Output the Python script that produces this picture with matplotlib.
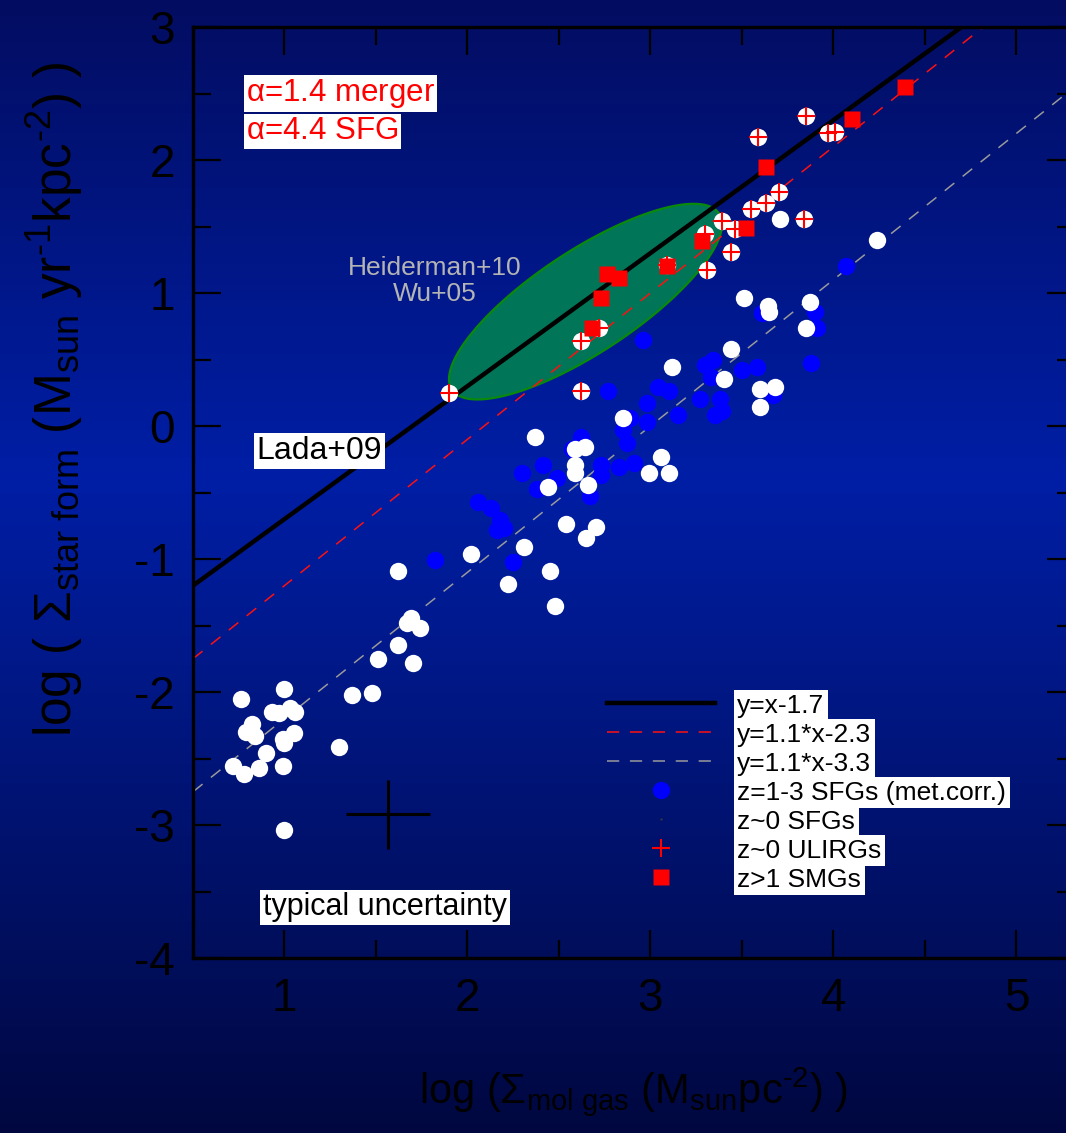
import numpy as np
import matplotlib
matplotlib.use("Agg")
import matplotlib.pyplot as plt
from matplotlib.lines import Line2D

plt.rcParams['font.family'] = ['Liberation Sans', 'DejaVu Sans']
plt.rcParams['mathtext.fontset'] = 'custom'
plt.rcParams['mathtext.rm'] = 'Liberation Sans'
plt.rcParams['mathtext.it'] = 'Liberation Sans'
plt.rcParams['mathtext.default'] = 'regular'
plt.rcParams['axes.unicode_minus'] = False

# z=1-3 SFGs (met.corr.)
sfg_hiz_x = [2.96, 2.77, 3.04, 3.10, 2.98, 2.98, 3.15, 3.27, 3.30, 3.34, 3.33, 3.38, 3.35,
             3.39, 3.50, 3.58, 3.67, 3.61, 3.90, 3.91, 3.88, 4.07, 2.85, 2.89, 2.87, 2.62,
             2.57, 2.73, 2.73, 2.83, 2.91, 2.67, 2.41, 2.49, 2.38, 2.30, 2.06, 2.13, 2.18,
             2.16, 2.20, 2.25, 1.82]
sfg_hiz_y = [0.65, 0.26, 0.29, 0.26, 0.17, 0.03, 0.08, 0.20, 0.46, 0.50, 0.37, 0.20, 0.08,
             0.11, 0.42, 0.44, 0.23, 0.85, 0.86, 0.74, 0.47, 1.20, -0.03, 0.06, -0.13, -0.08,
             -0.17, -0.29, -0.37, -0.31, -0.28, -0.53, -0.29, -0.39, -0.47, -0.35, -0.57,
             -0.62, -0.71, -0.78, -0.77, -1.02, -1.01]

# z~0 SFGs
sfg_loz_x = [3.12, 3.44, 3.40, 2.85, 2.37, 2.59, 2.64, 2.59, 2.59, 2.66, 2.44, 3.06, 2.99,
             3.10, 2.54, 2.70, 2.65, 2.31, 2.02, 2.45, 2.22, 2.48, 4.24, 3.51, 3.64, 3.65,
             3.87, 3.85, 3.60, 3.68, 3.60, 3.71, 1.62, 1.69, 1.67, 1.74, 1.62, 1.70, 1.51,
             1.37, 1.48, 1.30, 0.76, 1.00, 0.93, 0.97, 1.03, 1.06, 0.82, 0.79, 0.84, 1.05,
             0.99, 1.00, 0.90, 0.72, 0.78, 0.86, 0.99, 1.00]
sfg_loz_y = [0.44, 0.58, 0.35, 0.06, -0.08, -0.17, -0.16, -0.29, -0.35, -0.44, -0.46, -0.23,
             -0.35, -0.35, -0.74, -0.76, -0.84, -0.91, -0.96, -1.09, -1.19, -1.35, 1.40, 0.96,
             0.90, 0.86, 0.93, 0.74, 0.28, 0.29, 0.14, 1.56, -1.09, -1.44, -1.48, -1.52,
             -1.65, -1.78, -1.75, -2.02, -2.01, -2.41, -2.05, -1.98, -2.15, -2.16, -2.12,
             -2.15, -2.24, -2.30, -2.33, -2.31, -2.35, -2.38, -2.46, -2.56, -2.62, -2.57,
             -2.56, -3.04]

# z~0 ULIRGs
ulirg_x = [1.90, 2.62, 2.72, 2.62, 3.09, 3.30, 3.31, 3.39, 3.44, 3.46, 3.55, 3.63, 3.70,
           3.84, 3.59, 3.85, 3.97, 4.01]
ulirg_y = [0.25, 0.64, 0.74, 0.26, 1.21, 1.44, 1.17, 1.54, 1.31, 1.48, 1.63, 1.68, 1.76,
           1.56, 2.17, 2.33, 2.20, 2.21]

# z>1 SMGs
smg_x = [2.68, 2.73, 2.76, 2.83, 3.09, 3.28, 3.52, 3.63, 4.10, 4.39]
smg_y = [0.74, 0.96, 1.14, 1.11, 1.20, 1.39, 1.49, 1.95, 2.31, 2.55]

# relations: (slope, intercept)
lada = (1.0, -1.7)
merger_rel = (1.1, -2.3)
sfg_rel = (1.1, -3.3)

fig = plt.figure(figsize=(10.66, 11.33), dpi=100)

# background gradient
bg = fig.add_axes([0, 0, 1, 1], zorder=-10)
stops = np.array([0.0, 0.42, 1.0])
cols = np.array([[0.01, 0.05, 0.38], [0.00, 0.12, 0.65], [0.00, 0.03, 0.25]])
yy = np.linspace(0, 1, 400)
grad = np.stack([np.interp(yy, stops, cols[:, k]) for k in range(3)], axis=1)
bg.imshow(grad[:, None, :], aspect='auto', extent=[0, 1, 1, 0])
bg.set_axis_off()

ax = fig.add_axes([193 / 1066, 1 - 958 / 1133, 882 / 1066, 931 / 1133])
ax.set_facecolor('none')
ax.set_xlim(0.5, 5.32)
ax.set_ylim(-4, 3)

# Heiderman / Wu ellipse
t = np.linspace(0, 2 * np.pi, 300)
a_px, b_px, th = 160, 51, np.deg2rad(33.4)
u, v = a_px * np.cos(t), b_px * np.sin(t)
ex = 2.645 + (u * np.cos(th) - v * np.sin(th)) / 183
ey = 0.935 + (u * np.sin(th) + v * np.cos(th)) / 133
ax.fill(ex, ey, facecolor='#007558', edgecolor='#0a8a0a', lw=1.6, zorder=1)

xs = np.array([0.5, 5.4])
ax.plot(xs, lada[0] * xs + lada[1], color='black', lw=3.2, zorder=2, label='y=x-1.7')
ax.plot(xs, merger_rel[0] * xs + merger_rel[1], color='#ff1010', lw=1.1, ls=(0, (8, 7)),
        zorder=2, label='y=1.1*x-2.3')
ax.plot(xs, sfg_rel[0] * xs + sfg_rel[1], color='#9a9a9a', lw=1.1, ls=(0, (8, 7)),
        zorder=2, label='y=1.1*x-3.3')

ms = 12.5
ax.plot(sfg_hiz_x, sfg_hiz_y, 'o', color='#0000ff', ms=ms, mec='none', zorder=3,
        label='z=1-3 SFGs (met.corr.)')
ax.plot(sfg_loz_x, sfg_loz_y, 'o', color='white', ms=ms, mec='none', zorder=4)
ax.plot(ulirg_x, ulirg_y, 'o', color='white', ms=ms, mec='none', zorder=5)
ax.plot(ulirg_x, ulirg_y, '+', color='#ff0000', ms=ms, mew=1.5, zorder=6,
        label='z~0 ULIRGs')
ax.plot(smg_x, smg_y, 's', color='#ff0000', ms=12, mec='none', zorder=7,
        label='z>1 SMGs')

# typical uncertainty cross
ax.errorbar([1.565], [-2.92], xerr=[0.23], yerr=[0.26], fmt='none', ecolor='black',
            elinewidth=2.2, capsize=0, zorder=3)

# texts
ax.text(0.79, 2.50, r'$\alpha$=1.4 merger', color='#ff0000', fontsize=22.5, va='center',
        ha='left', bbox=dict(facecolor='white', edgecolor='none', pad=1.5), zorder=8)
ax.text(0.79, 2.215, r'$\alpha$=4.4 SFG', color='#ff0000', fontsize=22.5, va='center',
        ha='left', bbox=dict(facecolor='white', edgecolor='none', pad=1.5), zorder=8)
ax.text(1.19, -0.19, 'Lada+09', color='black', fontsize=23, va='center', ha='center',
        bbox=dict(facecolor='white', edgecolor='none', pad=2), zorder=8)
ax.text(1.55, -3.62, 'typical uncertainty', color='black', fontsize=22, va='center',
        ha='center', bbox=dict(facecolor='white', edgecolor='none', pad=2), zorder=8)
ax.text(1.82, 1.09, 'Heiderman+10\nWu+05', color='#b4b4b4', fontsize=19, va='center',
        ha='center', linespacing=1.15, zorder=8)

# legend
h = ax.get_legend_handles_labels()[0]
dot = Line2D([], [], ls='none', marker='.', ms=1.5, color='#334')
handles = [h[0], h[1], h[2], h[3], dot, h[4], h[5]]
labels = ['y=x-1.7', 'y=1.1*x-2.3', 'y=1.1*x-3.3', 'z=1-3 SFGs (met.corr.)',
          'z~0 SFGs', 'z~0 ULIRGs', 'z>1 SMGs']
leg = ax.legend(handles, labels, loc='upper left', bbox_to_anchor=(0.469, 0.284),
                frameon=False, fontsize=19, labelspacing=0.19, handlelength=4.1,
                handletextpad=0.85, borderpad=0, borderaxespad=0, numpoints=1)
for txt in leg.get_texts():
    txt.set_bbox(dict(facecolor='white', edgecolor='none', pad=2.5))
leg.set_zorder(9)

# axes styling
for s in ['left', 'top', 'bottom', 'right']:
    ax.spines[s].set_linewidth(2.4)
    ax.spines[s].set_color('black')
ax.set_xticks([1, 2, 3, 4, 5])
ax.set_xticks([1.5, 2.5, 3.5, 4.5], minor=True)
ax.set_yticks(np.arange(-4, 4))
ax.set_yticks(np.arange(-3.5, 3, 1), minor=True)
ax.tick_params(which='both', direction='in', top=True, right=True, color='black',
               width=1.6, labelcolor='black')
ax.tick_params(which='major', length=20)
ax.tick_params(which='minor', length=13)
ax.tick_params(axis='x', labelsize=33, pad=14)
ax.tick_params(axis='y', labelsize=33, pad=13)

ax.set_xlabel(r'log ($\Sigma_{mol\ gas}$ (M$_{sun}$pc$^{\text{-2}}$) )', fontsize=30,
              color='black')
ax.xaxis.set_label_coords(0.5, -0.115)
ax.set_ylabel(r'log ( $\Sigma_{star\ form}$ (M$_{sun}$ yr$^{\text{-1}}$kpc$^{\text{-2}}$) )',
              fontsize=37, color='black')
ax.yaxis.set_label_coords(-0.123, 0.60)

fig.savefig('out.png', dpi=100)
